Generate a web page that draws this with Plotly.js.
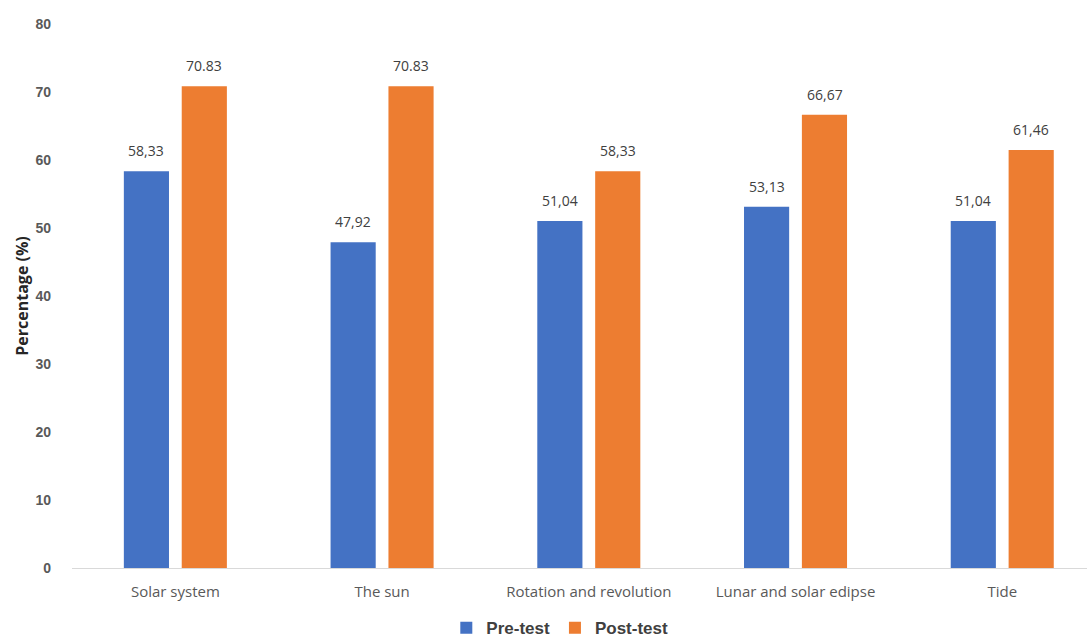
<!DOCTYPE html>
<html>
<head>
<meta charset="utf-8">
<script src="https://cdn.plot.ly/plotly-3.0.1.min.js"></script>
<style>html,body{margin:0;padding:0;background:#fff;}#chart{width:1087px;height:639px;}</style>
</head>
<body>
<div id="chart"></div>
<script>
const categories = ["Solar system", "The sun", "Rotation and revolution", "Lunar and solar edipse", "Tide"];
const preTest = [58.33, 47.92, 51.04, 53.13, 51.04];
const postTest = [70.83, 70.83, 58.33, 66.67, 61.46];
const preLabels = ["58,33", "47,92", "51,04", "53,13", "51,04"];
const postLabels = ["70.83", "70.83", "58,33", "66,67", "61,46"];
const yTicks = [0, 10, 20, 30, 40, 50, 60, 70, 80];

const labelFont = {family: "Open Sans, sans-serif", size: 14, color: "#404040"};

const traces = [
  {type: "bar", name: "Pre-test", x: categories, y: preTest,
   marker: {color: "#4472C4"}, hoverinfo: "x+y"},
  {type: "bar", name: "Post-test", x: categories, y: postTest,
   marker: {color: "#ED7D31"}, hoverinfo: "x+y"}
];

const annotations = [];
categories.forEach((c, i) => {
  annotations.push({x: c, y: preTest[i], text: preLabels[i], xref: "x", yref: "y", showarrow: false,
                    xshift: -29, yanchor: "bottom", yshift: 9, font: labelFont});
  annotations.push({x: c, y: postTest[i], text: postLabels[i], xref: "x", yref: "y", showarrow: false,
                    xshift: 29, yanchor: "bottom", yshift: 9, font: labelFont});
});

const layout = {
  width: 1087, height: 639,
  margin: {l: 72, r: 0, t: 24, b: 71},
  paper_bgcolor: "#fff", plot_bgcolor: "#fff",
  barmode: "group", bargap: 0.44, bargroupgap: 0.22,
  showlegend: true,
  annotations: annotations,
  legend: {orientation: "h", xref: "container", yref: "container", x: 0.515, xanchor: "center",
           y: 0.017, yanchor: "middle", font: {family: "Liberation Sans, Arial, sans-serif", size: 17, color: "#404040", weight: "bold"},
           itemwidth: 30, traceorder: "normal"},
  xaxis: {range: [-0.5, 4.41], showgrid: false, zeroline: false, showline: true, linecolor: "#d9d9d9", linewidth: 1,
          ticks: "", ticklabelstandoff: 10, tickfont: {family: "Open Sans, sans-serif", size: 15, color: "#595959"}, fixedrange: true},
  yaxis: {range: [0, 80], tickvals: yTicks, ticktext: yTicks.map(String), showgrid: false, zeroline: false, showline: false,
          ticks: "", ticklabelstandoff: 20,
          tickfont: {family: "Liberation Sans, Arial, sans-serif", size: 14, color: "#595959", weight: "bold"},
          title: {text: "Percentage (%)", standoff: 2, font: {family: "Open Sans, sans-serif", size: 16, color: "#262626", weight: "bold"}}},
};

Plotly.newPlot("chart", traces, layout, {displayModeBar: false, staticPlot: true});
</script>
</body>
</html>
